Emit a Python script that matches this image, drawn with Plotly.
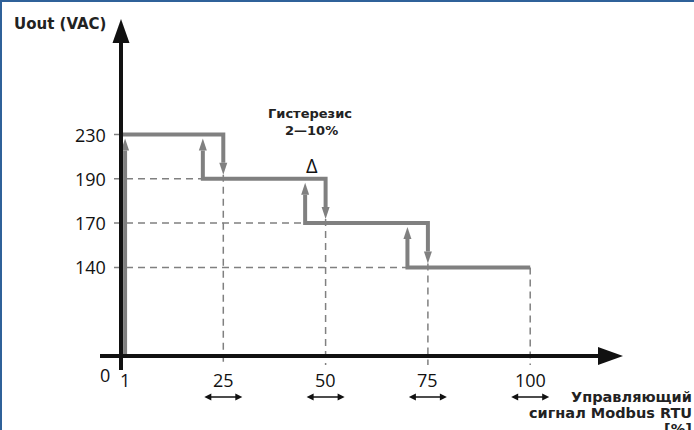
import plotly.graph_objects as go

# ---------------- data ----------------
levels = [230, 190, 170, 140]          # output voltage steps (VAC)
switch_up = [1, 20, 45, 70]            # control signal (%) where output rises to the level
switch_down = [25, 50, 75, 100]        # control signal (%) where output drops from the level
x_ticks = [1, 25, 50, 75, 100]
x_tick_labels = ["1", "25", "50", "75", "100"]
y_tick_labels = ["230", "190", "170", "140"]
origin_label = "0"

y_title = "Uout (VAC)"
x_title = ["Управляющий", "сигнал Modbus RTU", "[%]"]
hyst_title = "Гистерезис"
hyst_range = "2—10%"
delta_label = "Δ"

# ---------------- scale set-up ----------------
W, H = 694, 430
X0_PX, PX_PER_X = 121.0, 4.092     # pixel of x=0, pixels per % unit
Y0_PX, PX_PER_Y = 356.0, 44.3      # pixel of y=0 (x-axis), pixels per level row


def dx(p):
    return p / PX_PER_X


def dy(p):
    return p / PX_PER_Y


def xd(px):
    return (px - X0_PX) / PX_PER_X


def yd(py):
    return (Y0_PX - py) / PX_PER_Y


n = len(levels)
ypos = [n + 1 - i for i in range(n)]   # schematic, evenly spaced rows

GRAY = "#808080"
BLACK = "#111111"
GAP = 4          # px between arrow tip and target line
AH_L, AH_W = 12, 8

fig = go.Figure()


def tri(x, y, direction, length, width):
    """triangle with tip at (x, y), sizes in px"""
    if direction == "up":
        b = y - dy(length)
        xs, ys = [x, x - dx(width / 2), x + dx(width / 2), x], [y, b, b, y]
    elif direction == "down":
        b = y + dy(length)
        xs, ys = [x, x - dx(width / 2), x + dx(width / 2), x], [y, b, b, y]
    elif direction == "right":
        b = x - dx(length)
        xs, ys = [x, b, b, x], [y, y - dy(width / 2), y + dy(width / 2), y]
    else:  # left
        b = x + dx(length)
        xs, ys = [x, b, b, x], [y, y - dy(width / 2), y + dy(width / 2), y]
    return xs, ys


def add_tri(x, y, direction, length, width, color):
    xs, ys = tri(x, y, direction, length, width)
    fig.add_trace(go.Scatter(x=xs, y=ys, mode="lines", fill="toself", fillcolor=color,
                             line=dict(width=0, color=color), hoverinfo="skip"))


def add_line(xs, ys, color, width, dash=None):
    fig.add_trace(go.Scatter(x=xs, y=ys, mode="lines",
                             line=dict(color=color, width=width, dash=dash),
                             hoverinfo="skip"))


# ---------------- dashed guide lines ----------------
DASH = "7px,5px"
for i in range(n):
    if i == 0:
        add_line([-dx(7), 0], [ypos[i], ypos[i]], GRAY, 1.5)
    else:
        add_line([-dx(7), switch_up[i]], [ypos[i], ypos[i]], GRAY, 1.5, DASH)
    top = ypos[i + 1] + dy(GAP) if i < n - 1 else ypos[i]
    add_line([switch_down[i], switch_down[i]], [top, -dy(9)], GRAY, 1.5, DASH)

# ---------------- step (hysteresis) lines ----------------
tip0 = ypos[0] - dy(GAP)
add_line([switch_up[0], switch_up[0]], [0, tip0 - dy(AH_L)], GRAY, 4)
add_tri(switch_up[0], tip0, "up", AH_L, AH_W, GRAY)

for i in range(n):
    xs, ys = [], []
    if i == 0:
        xs.append(0)
        ys.append(ypos[0])
    else:
        tip = ypos[i - 1] - dy(GAP)
        xs += [switch_up[i], switch_up[i]]
        ys += [tip - dy(AH_L), ypos[i]]
        add_tri(switch_up[i], tip, "up", AH_L, AH_W, GRAY)
    xs.append(switch_down[i])
    ys.append(ypos[i])
    if i < n - 1:
        tip = ypos[i + 1] + dy(GAP)
        xs.append(switch_down[i])
        ys.append(tip + dy(AH_L))
        add_tri(switch_down[i], tip, "down", AH_L, AH_W, GRAY)
    add_line(xs, ys, GRAY, 4)

# ---------------- axes with arrows ----------------
add_line([xd(100), xd(599)], [0, 0], BLACK, 4)
add_tri(xd(623), 0, "right", 25, 18, BLACK)
add_line([0, 0], [yd(370), yd(42)], BLACK, 4)
add_tri(0, yd(19), "up", 24, 17, BLACK)

# double-headed arrows under the switching ticks
for xv in x_ticks[1:]:
    yv = yd(397)
    add_line([xv - dx(13), xv + dx(13)], [yv, yv], BLACK, 1.5)
    add_tri(xv - dx(19), yv, "left", 7, 7, BLACK)
    add_tri(xv + dx(19), yv, "right", 7, 7, BLACK)

# ---------------- text ----------------
NUM_FONT = dict(family="Open Sans", size=18, color="#111111")
BOLD_FONT = "DejaVu Sans"
ann = []
for lab, yv in zip(y_tick_labels, ypos):
    ann.append(dict(x=xd(108), y=yv, text=lab, xanchor="right", yanchor="middle",
                    showarrow=False, font=NUM_FONT))
for lab, xv in zip(x_tick_labels, x_ticks):
    ann.append(dict(x=xv, y=yd(380), text=lab, xanchor="center", yanchor="middle",
                    showarrow=False, font=NUM_FONT))
ann.append(dict(x=xd(105), y=yd(375), text=origin_label, xanchor="center", yanchor="middle",
                showarrow=False, font=NUM_FONT))
ann.append(dict(x=xd(12), y=yd(24), text="<b>" + y_title + "</b>", xanchor="left",
                yanchor="middle", showarrow=False,
                font=dict(family=BOLD_FONT, size=15, color="#222222")))
ann.append(dict(x=xd(310), y=yd(113), text="<b>" + hyst_title + "</b>", xanchor="center",
                yanchor="middle", showarrow=False,
                font=dict(family=BOLD_FONT, size=13, color="#222222")))
ann.append(dict(x=xd(311), y=yd(130), text="<b>" + hyst_range + "</b>", xanchor="center",
                yanchor="middle", showarrow=False,
                font=dict(family=BOLD_FONT, size=13, color="#222222")))
ann.append(dict(x=xd(312), y=yd(165), text=delta_label, xanchor="center", yanchor="middle",
                showarrow=False, font=dict(family="Open Sans", size=20, color="#111111")))
for k, line in enumerate(x_title):
    ann.append(dict(xref="paper", x=1.0, y=yd(397 + 16 * k), text="<b>" + line + "</b>",
                    xanchor="right", yanchor="middle", showarrow=False,
                    font=dict(family=BOLD_FONT, size=14.5, color="#222222")))

# blue frame (top & left edges of the original panel)
shapes = [
    dict(type="rect", xref="paper", yref="paper", x0=0, x1=2 / W, y0=0, y1=1,
         fillcolor="#2f6199", line=dict(width=0)),
    dict(type="rect", xref="paper", yref="paper", x0=0, x1=1, y0=1 - 2 / H, y1=1,
         fillcolor="#2f6199", line=dict(width=0)),
]

fig.update_layout(
    width=W, height=H,
    margin=dict(l=0, r=0, t=0, b=0),
    paper_bgcolor="white", plot_bgcolor="white",
    showlegend=False, hovermode=False,
    xaxis=dict(range=[xd(0), xd(W)], visible=False, fixedrange=True),
    yaxis=dict(range=[yd(H), yd(0)], visible=False, fixedrange=True),
    annotations=ann, shapes=shapes,
)

fig.write_html(
    "out.html",
    config={"displayModeBar": False},
    post_script="document.body.style.margin='0';document.body.style.padding='0';"
                "document.body.style.overflow='hidden';",
)
